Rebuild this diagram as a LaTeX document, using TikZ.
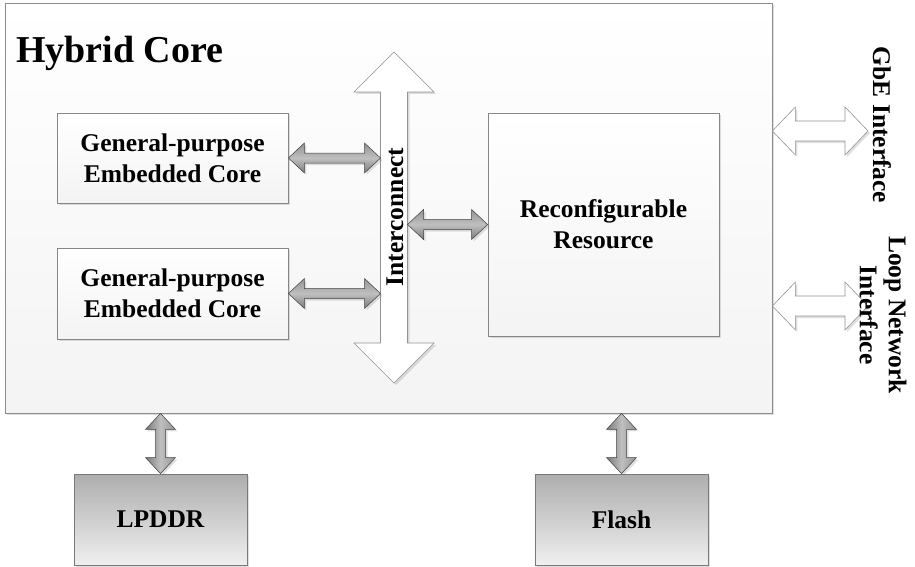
\documentclass[tikz,border=0pt]{standalone}
\usepackage{fontspec}
\setmainfont{Liberation Serif}
\usetikzlibrary{calc,shadows}

% fat two-headed arrow, horizontal: style, from, to, shaft half, head half, head length
\newcommand{\hlink}[6]{%
  \path [#1] let \p1=(#2), \p2=(#3) in
    (\x1,\y1) -- (\x1+#6,\y1+#5) -- (\x1+#6,\y1+#4) -- (\x2-#6,\y1+#4) -- (\x2-#6,\y1+#5)
    -- (\x2,\y1) -- (\x2-#6,\y1-#5) -- (\x2-#6,\y1-#4) -- (\x1+#6,\y1-#4) -- (\x1+#6,\y1-#5) -- cycle;}
% same thing, vertical (from is the upper end)
\newcommand{\vlink}[6]{%
  \path [#1] let \p1=(#2), \p2=(#3) in
    (\x1,\y1) -- (\x1+#5,\y1-#6) -- (\x1+#4,\y1-#6) -- (\x1+#4,\y2+#6) -- (\x1+#5,\y2+#6)
    -- (\x1,\y2) -- (\x1-#5,\y2+#6) -- (\x1-#4,\y2+#6) -- (\x1-#4,\y1-#6) -- (\x1-#5,\y1-#6) -- cycle;}

\begin{document}
\begin{tikzpicture}[x=1pt,y=-1pt,
    txt/.style={font=\bfseries\fontsize{25.5}{31}\selectfont,align=center},
    softshadow/.style={drop shadow={opacity=.25,shadow xshift=2pt,shadow yshift=-2pt}},
    core/.style={draw=gray!90,line width=.8pt,top color=white,bottom color=gray!9,
        minimum width=767,minimum height=410,inner sep=0pt,softshadow},
    unit/.style={txt,draw=gray!95,line width=.8pt,top color=white,bottom color=gray!9,
        inner sep=0pt,softshadow},
    mem/.style={txt,draw=gray!95!black,line width=.8pt,top color=gray!64,bottom color=gray!12,
        minimum width=173,minimum height=91,inner sep=0pt,softshadow},
    greyh/.style={draw=gray!50!black,line width=.5pt,top color=gray!85,bottom color=gray!95!black,
        middle color=gray!50,softshadow},
    greyv/.style={draw=gray!50!black,line width=.5pt,left color=gray!95!black,right color=gray!85,
        middle color=gray!50,softshadow},
    hollow/.style={draw=gray!85,line width=.6pt,fill=white,softshadow}]

    \useasboundingbox (0,0) rectangle (915,567);

    % outer block
    \node [core] (hc) at (388.5,208) {};
    \node [txt,font=\bfseries\fontsize{38}{44}\selectfont,anchor=base west,inner sep=0pt] (title) at (16,63) {Hybrid Core};

    % the three units inside
    \node [unit,minimum width=231,minimum height=90] (gp1) at (172.5,158) {General-purpose\\Embedded Core};
    \node [unit,minimum width=231,minimum height=91] (gp2) at (172.5,293.5) {General-purpose\\Embedded Core};
    \node [unit,minimum width=231,minimum height=223] (rr) at (603.5,224.5) {Reconfigurable\\Resource};

    % interconnect bus
    \coordinate (icT) at (394,52);
    \coordinate (icB) at (394,383);
    \coordinate (icL) at (380.5,0);
    \coordinate (icR) at (407.5,0);
    \vlink{hollow}{icT}{icB}{13.5pt}{40pt}{40pt}
    \node [txt,rotate=90] (ic) at (395,217) {Interconnect};

    % links to the bus
    \hlink{greyh}{gp1.east}{gp1.east -| icL}{5pt}{15pt}{16pt}
    \hlink{greyh}{gp2.east}{gp2.east -| icL}{5pt}{15pt}{16pt}
    \hlink{greyh}{rr.west -| icR}{rr.west}{5pt}{15pt}{16pt}

    % external interfaces
    \coordinate (gbe) at (868,131);
    \coordinate (loop) at (868,306);
    \hlink{hollow}{hc.east |- gbe}{gbe}{10pt}{24pt}{23pt}
    \hlink{hollow}{hc.east |- loop}{loop}{10pt}{24pt}{23pt}
    \node [txt,rotate=-90] (gbeLbl) at (882,125) {GbE Interface};
    \node [txt,rotate=-90,font=\bfseries\fontsize{25.5}{29}\selectfont] (loopLbl) at (883,315) {Loop Network\\Interface};

    % memories below
    \node [mem] (lpddr) at (160.5,519.5) {LPDDR};
    \node [mem] (flash) at (621.5,519.5) {Flash};
    \vlink{greyv}{lpddr.north |- hc.south}{lpddr.north}{5pt}{15pt}{16pt}
    \vlink{greyv}{flash.north |- hc.south}{flash.north}{5pt}{15pt}{16pt}

\end{tikzpicture}
\end{document}
